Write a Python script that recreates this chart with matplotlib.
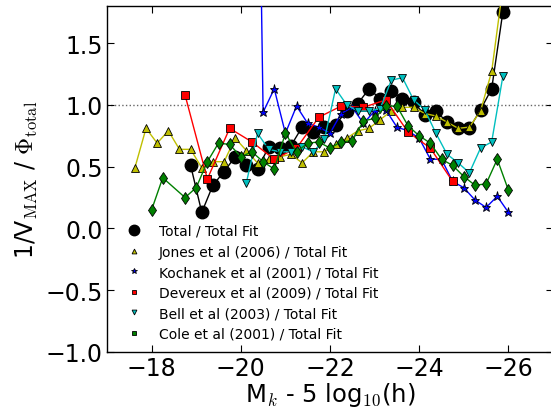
import numpy as np
import matplotlib
matplotlib.use("Agg")
import matplotlib.pyplot as plt
from matplotlib.lines import Line2D

plt.rcParams['mathtext.fontset'] = 'cm'
plt.rcParams['font.family'] = ['DejaVu Sans']

# Magnitude bins
mag_fine = -17.625 - 0.25 * np.arange(34)      # grid used by Total, Jones, Bell

total_mag = mag_fine[5:34]
total_val = [0.51, 0.13, 0.35, 0.46, 0.58, 0.51, 0.48, 0.66, 0.65, 0.67, 0.82, 0.78,
             0.82, 0.84, 0.95, 1.01, 1.13, 1.05, 1.11, 1.05, 1.02, 0.92, 0.95, 0.86,
             0.81, 0.81, 0.96, 1.13, 1.75]

jones_mag = mag_fine[0:34]
jones_val = [0.49, 0.81, 0.69, 0.79, 0.64, 0.64, 0.49, 0.54, 0.54, 0.73, 0.63, 0.53,
             0.56, 0.58, 0.60, 0.53, 0.62, 0.62, 0.68, 0.73, 0.79, 0.81, 0.88, 0.95,
             0.98, 0.98, 0.93, 0.91, 0.86, 0.81, 0.82, 0.95, 1.27, 1.95]

koch_mag = [-20.25, -20.5, -20.75, -21.0, -21.25, -21.5, -21.75, -22.0, -22.25, -22.5,
            -22.75, -23.0, -23.25, -23.5, -23.75, -24.0, -24.25, -24.5, -24.75, -25.0,
            -25.25, -25.5, -25.75, -26.0]
koch_val = [7.0, 0.94, 1.13, 0.77, 0.99, 0.85, 0.82, 0.77, 0.93, 0.98,
            0.85, 0.95, 0.96, 0.82, 0.79, 0.73, 0.56, 0.56, 0.38, 0.33,
            0.23, 0.17, 0.26, 0.13]

dev_mag = [-18.75, -19.25, -19.75, -20.25, -20.75, -21.25, -21.75, -22.25, -22.75,
           -23.25, -23.75, -24.25, -24.75]
dev_val = [1.08, 0.40, 0.81, 0.70, 0.56, 0.65, 0.90, 0.99, 0.98, 1.04, 0.78, 0.65, 0.38]

bell_mag = mag_fine[10:34]
bell_val = [0.37, 0.77, 0.64, 0.62, 0.62, 0.66, 0.62, 0.72, 1.13, 1.00, 0.95, 0.95,
            0.97, 1.20, 1.22, 1.04, 0.96, 0.77, 0.60, 0.53, 0.45, 0.65, 0.70, 1.23]

cole_mag = [-18.0, -18.25, -18.75, -19.0, -19.25, -19.5, -19.75, -20.0, -20.25, -20.5,
            -20.75, -21.0, -21.25, -21.5, -21.75, -22.0, -22.25, -22.5, -22.75, -23.0,
            -23.25, -23.5, -23.75, -24.0, -24.25, -24.5, -24.75, -25.0, -25.25, -25.5,
            -25.75, -26.0]
cole_val = [0.15, 0.41, 0.25, 0.33, 0.54, 0.69, 0.68, 0.58, 0.62, 0.54,
            0.48, 0.77, 0.62, 0.69, 0.70, 0.65, 0.70, 0.71, 0.87, 0.89,
            0.99, 0.99, 0.83, 0.75, 0.69, 0.56, 0.51, 0.42, 0.35, 0.36,
            0.56, 0.31]

labels = ["Total / Total Fit", "Jones et al (2006) / Total Fit",
          "Kochanek et al (2001) / Total Fit", "Devereux et al (2009) / Total Fit",
          "Bell et al (2003) / Total Fit", "Cole et al (2001) / Total Fit"]

Y = (0.75, 0.75, 0.0)
C = (0.0, 0.75, 0.75)
G = (0.0, 0.5, 0.0)

fig = plt.figure(figsize=(5.51, 4.14), dpi=100)
ax = fig.add_axes([107/551, 61/414, 446/551, 346/414])

ax.axhline(1.0, color='0.4', ls=':', lw=1, zorder=1)

ax.plot(total_mag, total_val, '-', color='k', lw=1, marker='o', ms=9,
        mfc='k', mec='k', zorder=3)
ax.plot(jones_mag, jones_val, '-', color=Y, lw=1, marker='^', ms=6,
        mfc=Y, mec='k', mew=0.6, zorder=3)
ax.plot(koch_mag, koch_val, '-', color='b', lw=1, marker='*', ms=6.5,
        mfc='b', mec='k', mew=0.6, zorder=3)
ax.plot(dev_mag, dev_val, '-', color='r', lw=1, marker='s', ms=5.5,
        mfc='r', mec='k', mew=0.6, zorder=3)
ax.plot(bell_mag, bell_val, '-', color=C, lw=1, marker='v', ms=6,
        mfc=C, mec='k', mew=0.6, zorder=3)
ax.plot(cole_mag, cole_val, '-', color=G, lw=1, marker='d', ms=6,
        mfc=G, mec='k', mew=0.6, zorder=3)

ax.set_xlim(-17, -27)
ax.set_ylim(-1.0, 1.8)
ax.set_xticks([-18, -20, -22, -24, -26])
ax.set_yticks([-1.0, -0.5, 0.0, 0.5, 1.0, 1.5])
ax.tick_params(direction='in', top=True, right=True, length=5, width=0.8,
               labelsize=17, pad=3)
for s in ax.spines.values():
    s.set_linewidth(1.0)

ax.set_xlabel(r"M$_k$ - 5 log$_{10}$(h)", fontsize=17.5, labelpad=0)
ax.set_ylabel(r"1/V$_{\rm MAX}$ / $\Phi_{\rm total}$", fontsize=17, labelpad=4)

handles = [
    Line2D([], [], ls='none', marker='o', ms=7.5, mfc='k', mec='k'),
    Line2D([], [], ls='none', marker='^', ms=3.5, mfc=Y, mec='k', mew=0.6),
    Line2D([], [], ls='none', marker='*', ms=4, mfc='b', mec='k', mew=0.6),
    Line2D([], [], ls='none', marker='s', ms=3.5, mfc='r', mec='k', mew=0.6),
    Line2D([], [], ls='none', marker='v', ms=3.5, mfc=C, mec='k', mew=0.6),
    Line2D([], [], ls='none', marker='s', ms=3.5, mfc=G, mec='k', mew=0.6),
]
ax.legend(handles, labels, loc='upper left', bbox_to_anchor=(0.045, 0.370),
          frameon=False, fontsize=10, handlelength=1.0, handletextpad=1.3,
          labelspacing=0.47, borderaxespad=0.0, borderpad=0.0)

fig.savefig("out.png", dpi=100)
